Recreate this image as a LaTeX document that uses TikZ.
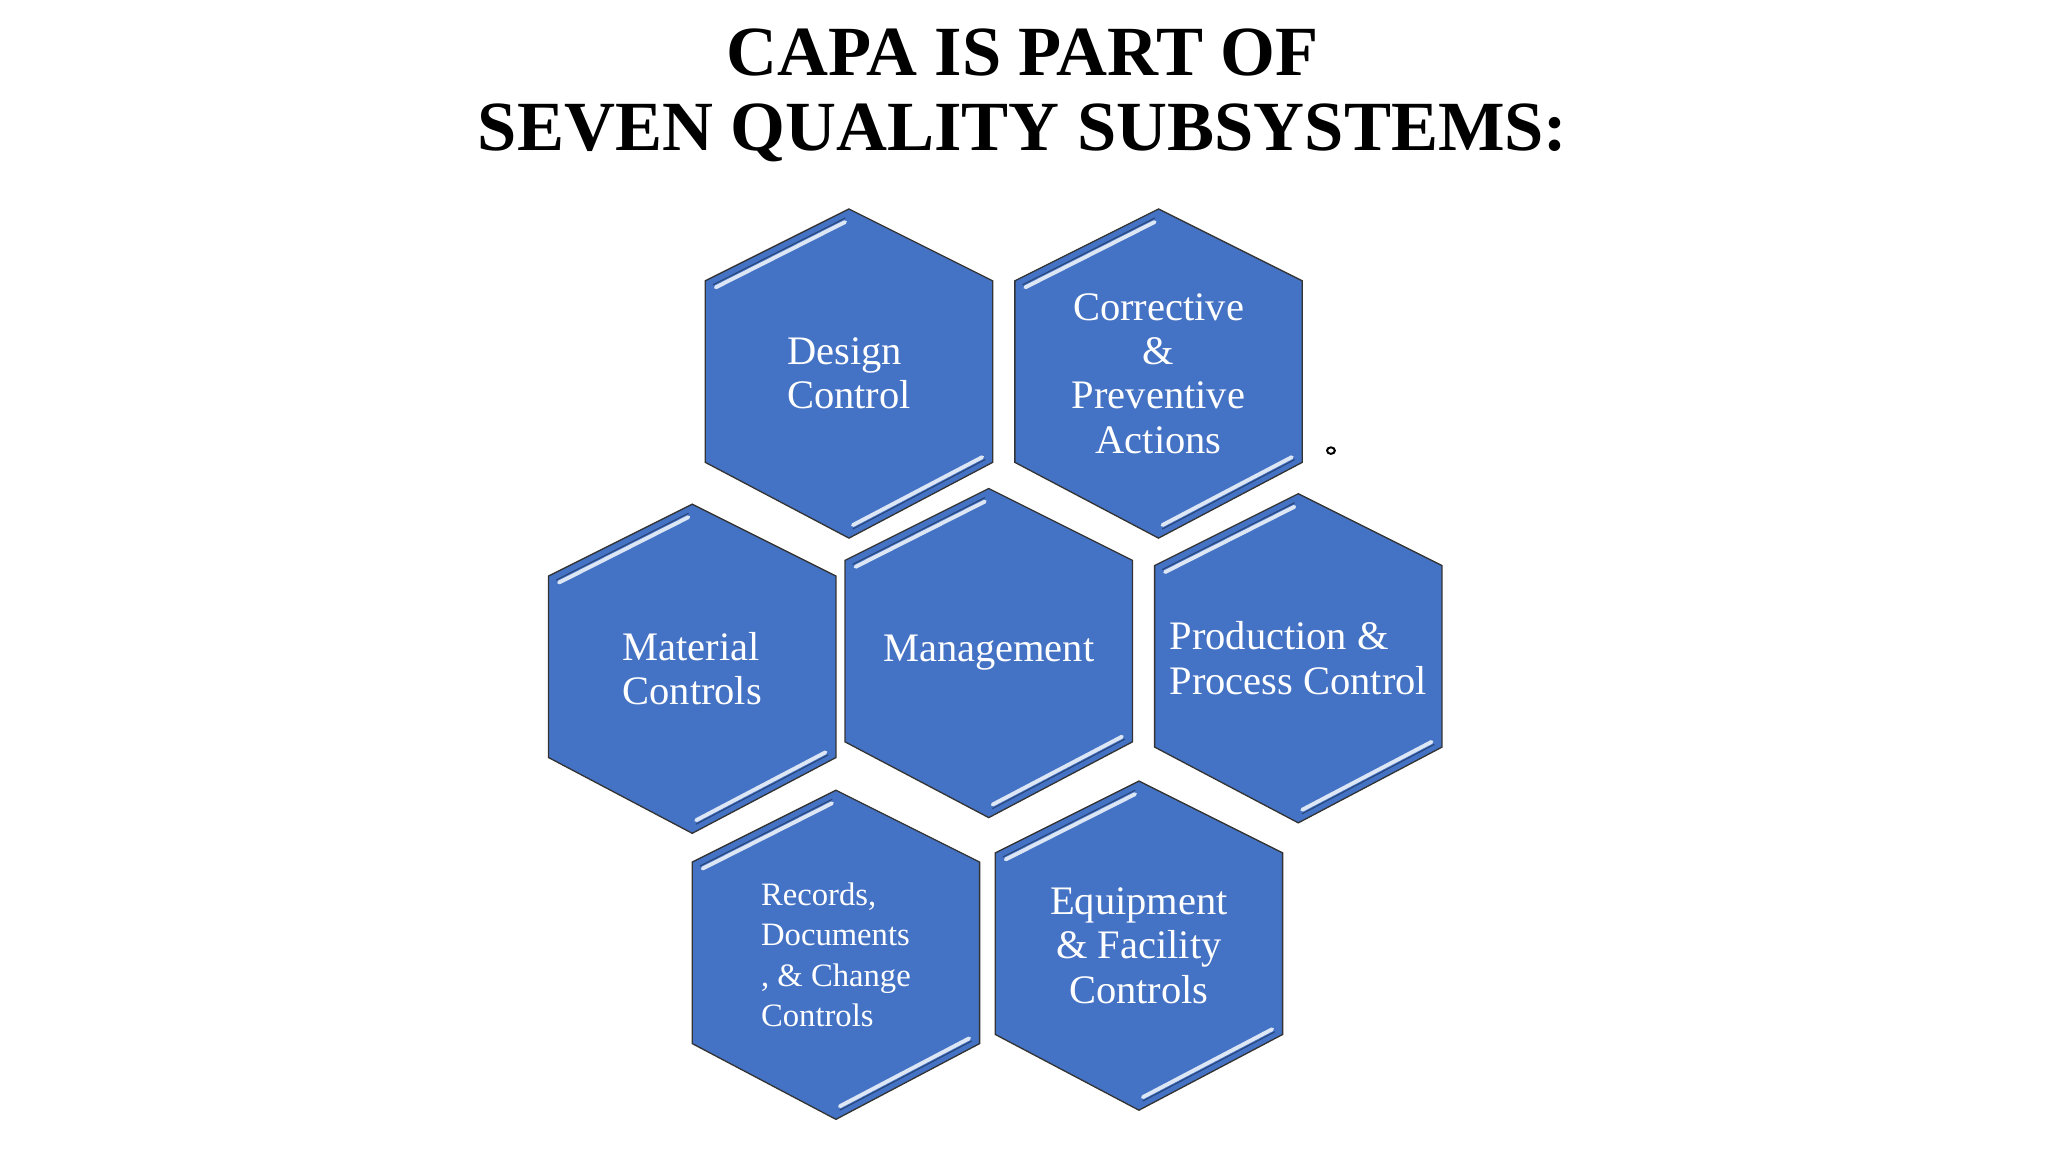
\documentclass[tikz,border=0pt]{standalone}
\usepackage{fontspec}
\setmainfont{Liberation Serif}
\definecolor{hexblue}{HTML}{4472C4}
\definecolor{hexlight}{HTML}{DCE6F5}
\tikzset{
  hexshape/.style={fill=hexblue,draw=black!80,line width=1pt,line join=miter},
  hexhl/.style={draw=hexlight,line width=3pt,line cap=round},
  hexhlb/.style={draw=hexblue!60!black,line width=0.8pt,line cap=round},
  hextext/.style={text=white,font=\fontsize{31}{34}\selectfont,align=left},
  small/.style={font=\fontsize{25}{31}\selectfont},
}
\newcommand{\hexa}[4]{%
  \begin{scope}[shift={(#1)}]
    \path[hexshape] (0,126)--(110,68)--(110,-71)--(0,-126)--(-110,-71)--(-110,68)--cycle;
    \draw[hexhlb] (3,119)--(104,66);
    \draw[hexhl] (3,116)--(102,64);
    \draw[hexhlb] (-3,-119)--(-104,-68);
    \draw[hexhl] (-3,-116)--(-102,-66);
  \end{scope}
  \node[hextext,#4] (#2) at (#1) {#3};}
\begin{document}
\begin{tikzpicture}[x=1pt,y=-1pt]
\path[fill=white] (0,0) rectangle (1568,882);
\useasboundingbox (0,0) rectangle (1568,882);
\node[font=\bfseries\fontsize{54}{57}\selectfont,align=center] (title) at (783,73) {CAPA IS PART OF\\SEVEN QUALITY SUBSYSTEMS:};
\hexa{650,286}{design}{Design\\Control}{}
\hexa{887,286}{capa}{Corrective\\\&\\Preventive\\Actions}{align=center}
\hexa{530,512}{material}{Material\\Controls}{}
\hexa{757,500}{mgmt}{Management}{}
\hexa{994,504}{prod}{Production \&\\Process Control}{}
\hexa{640,731}{records}{Records,\\Documents\\, \& Change\\Controls}{small}
\hexa{872,724}{equip}{Equipment\\\& Facility\\Controls}{align=center}
\draw[line width=1.5pt] (1019,345) ellipse (3 and 2.5);
\end{tikzpicture}
\end{document}
